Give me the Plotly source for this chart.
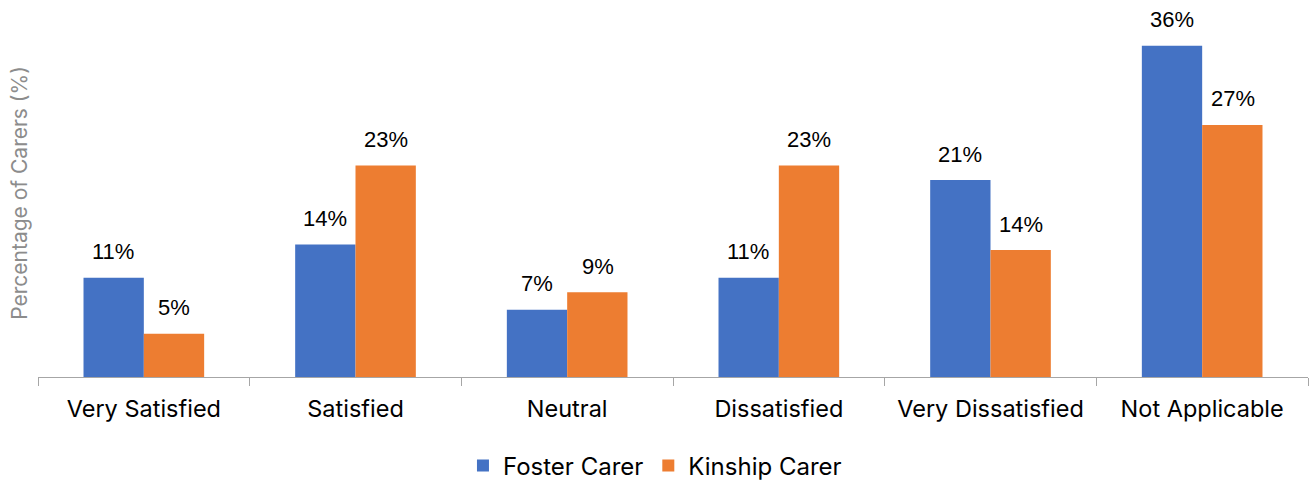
import plotly.graph_objects as go

categories = ["Very Satisfied", "Satisfied", "Neutral", "Dissatisfied", "Very Dissatisfied", "Not Applicable"]
foster = [10.8, 14.4, 7.3, 10.8, 21.4, 36.0]
kinship = [4.7, 23.0, 9.2, 23.0, 13.8, 27.4]
series_names = ["Foster Carer", "Kinship Carer"]
colors = ["#4472C4", "#ED7D31"]

fig = go.Figure()
for name, vals, col in zip(series_names, [foster, kinship], colors):
    fig.add_trace(go.Bar(x=categories, y=vals, name=name, marker_color=col,
                         marker_line_width=0))

annotations = []
for vals, shift in [(foster, -30.5), (kinship, 30.5)]:
    for c, v in zip(categories, vals):
        annotations.append(dict(x=c, y=v, xref="x", yref="y", text=f"{round(v):d}%",
                                showarrow=False, xshift=shift, yshift=26,
                                font=dict(family="Liberation Sans, Arial", size=22, color="#000000")))

fig.update_layout(
    width=1310, height=482,
    margin=dict(l=38, r=2, t=9, b=105, autoexpand=False),
    paper_bgcolor="white", plot_bgcolor="white",
    barmode="group", bargap=0.43, bargroupgap=0,
    showlegend=True,
    legend=dict(orientation="h", x=0.4858, xanchor="center", yref="container",
                y=16/482, yanchor="middle",
                font=dict(family="Inter, Open Sans, sans-serif", size=24, color="#000000"),
                itemwidth=30, traceorder="normal"),
    annotations=annotations,
)
fig.update_xaxes(showline=True, linecolor="#a6a6a6", linewidth=1,
                 ticks="outside", tickson="boundaries", ticklen=8, tickcolor="#a6a6a6",
                 ticklabelstandoff=11,
                 tickfont=dict(family="Inter, Open Sans, sans-serif", size=23.5, color="#000000"),
                 showgrid=False)
fig.update_yaxes(range=[0, 40], showticklabels=False, showgrid=False, zeroline=False,
                 showline=False, ticks="",
                 title=dict(text="Percentage of Carers (%)", standoff=3,
                            font=dict(family="Inter, Open Sans, sans-serif", size=21, color="#8c8c8c")))

fig.write_html("out.html")
